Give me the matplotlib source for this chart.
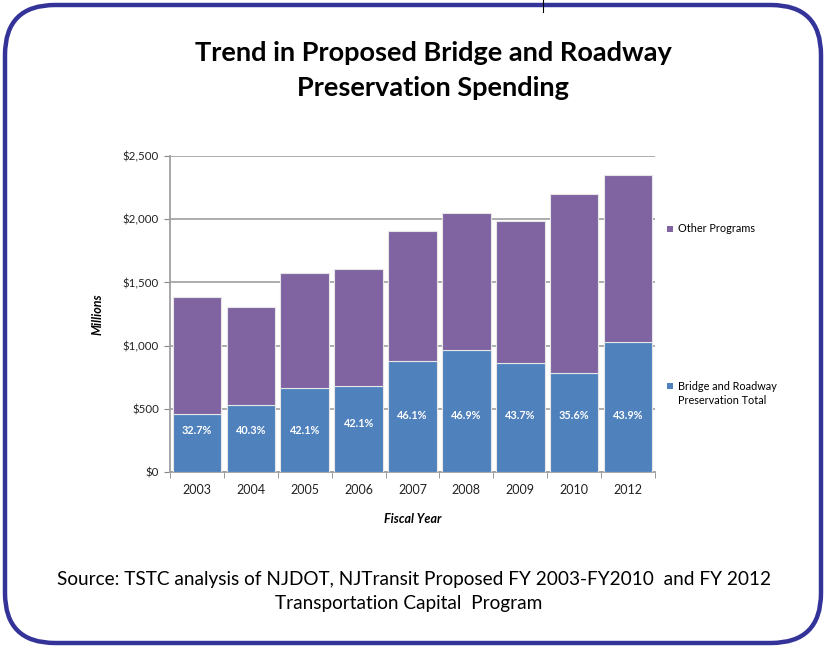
import matplotlib
matplotlib.use("Agg")
import matplotlib.pyplot as plt
import numpy as np
from matplotlib.patches import FancyBboxPatch, Rectangle

years = ["2003", "2004", "2005", "2006", "2007", "2008", "2009", "2010", "2012"]
bridge_roadway = [455, 528, 662, 678, 882, 962, 865, 780, 1030]
other_programs = [930, 777, 910, 927, 1024, 1085, 1122, 1418, 1320]
pct_labels = ["32.7%", "40.3%", "42.1%", "42.1%", "46.1%", "46.9%", "43.7%", "35.6%", "43.9%"]
label_y = [325, 325, 325, 385, 450, 450, 450, 450, 450]
yticks = [0, 500, 1000, 1500, 2000, 2500]
ytick_labels = ["$0", "$500", "$1,000", "$1,500", "$2,000", "$2,500"]

title_font = "Lato"
body_font = "Lato"

W, H = 826, 648
fig = plt.figure(figsize=(W / 100, H / 100), dpi=100)
fig.patch.set_facecolor("white")

bg = fig.add_axes([0, 0, 1, 1])
bg.set_xlim(0, W)
bg.set_ylim(H, 0)
bg.axis("off")
box = FancyBboxPatch((5, 5), W - 10, H - 10,
                     boxstyle="round,pad=0,rounding_size=50",
                     fc="white", ec="#333399", lw=3.2)
bg.add_patch(box)
bg.plot([543, 543], [0, 12], color="black", lw=0.8)

bg.text(433, 53, "Trend in Proposed Bridge and Roadway", ha="center", va="center",
        fontsize=19.5, fontweight="bold", family=title_font)
bg.text(433, 88, "Preservation Spending", ha="center", va="center",
        fontsize=19.5, fontweight="bold", family=title_font)
bg.text(414, 579, "Source: TSTC analysis of NJDOT, NJTransit Proposed FY 2003-FY2010  and FY 2012",
        ha="center", va="center", fontsize=13.7, family=title_font)
bg.text(409, 604, "Transportation Capital  Program", ha="center", va="center",
        fontsize=13.7, family=title_font)

purple = "#8064A2"
blue = "#4F81BD"
bg.add_patch(Rectangle((667, 226), 6, 6, fc=purple, ec="none"))
bg.text(678, 229, "Other Programs", va="center", ha="left", fontsize=7.8, family=body_font)
bg.add_patch(Rectangle((667, 383), 6, 6, fc=blue, ec="none"))
bg.text(678, 386, "Bridge and Roadway", va="center", ha="left", fontsize=7.8, family=body_font)
bg.text(678, 400, "Preservation Total", va="center", ha="left", fontsize=7.8, family=body_font)

ax = fig.add_axes([170 / W, 1 - 472 / H, (655 - 170) / W, (472 - 156) / H])
ax.set_zorder(2)
ax.patch.set_alpha(0)
x = np.arange(len(years))
ax.bar(x, bridge_roadway, width=0.9, color=blue, edgecolor="#e6e6e6", lw=0.8, zorder=3)
ax.bar(x, other_programs, bottom=bridge_roadway, width=0.9, color=purple,
       edgecolor="#e6e6e6", lw=0.8, zorder=3)
for i, (lab, ly) in enumerate(zip(pct_labels, label_y)):
    ax.text(x[i], ly, lab, ha="center", va="center", color="white",
            fontsize=7.8, fontweight="bold", family=body_font, zorder=4)

ax.set_xlim(-0.5, len(years) - 0.5)
ax.set_ylim(0, 2500)
ax.set_yticks(yticks)
ax.set_yticklabels(ytick_labels, fontsize=8.3, family=body_font, color="#222222")
ax.yaxis.grid(True, color="#a6a6a6", lw=1.3, zorder=0)
ax.set_axisbelow(True)
ax.set_xticks(x)
ax.set_xticklabels(years, fontsize=9, family=body_font, color="#222222")
ax.set_xticks(np.arange(-0.5, len(years)), minor=True)
ax.tick_params(axis="x", which="major", length=0, pad=9)
ax.tick_params(axis="x", which="minor", length=4, color="#888888")
ax.tick_params(axis="y", length=4, color="#888888", pad=4)
for s in ["top", "right"]:
    ax.spines[s].set_visible(False)
ax.spines["left"].set_color("#a0a0a0")
ax.spines["left"].set_linewidth(1.3)
ax.spines["bottom"].set_color("#a0a0a0")
ax.spines["bottom"].set_linewidth(1.3)
ax.set_ylabel("Millions", fontsize=9, fontweight="bold", style="italic",
              family=body_font, labelpad=14)
ax.set_xlabel("Fiscal Year", fontsize=9, fontweight="bold", style="italic",
              family=body_font, labelpad=12)

fig.savefig("out.png", dpi=100)
